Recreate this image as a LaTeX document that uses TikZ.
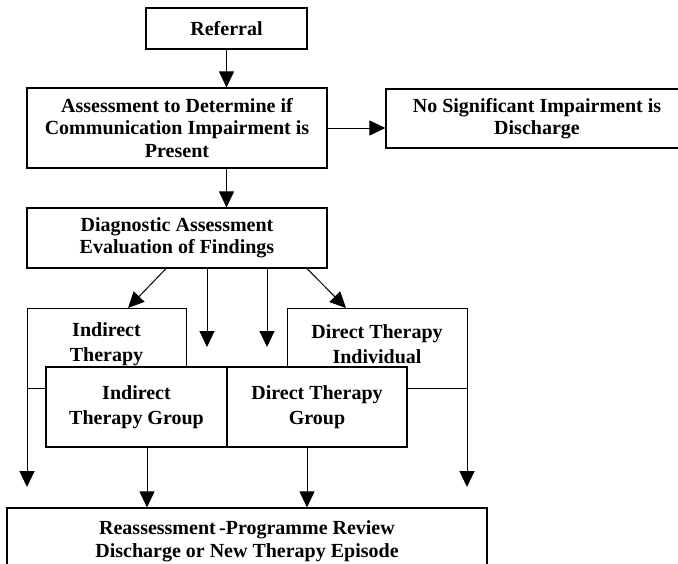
\documentclass[tikz,border=0pt]{standalone}
\usepackage{fontspec}
\setmainfont{Liberation Serif}
\usetikzlibrary{arrows.meta}
\tikzset{
  box/.style={draw, line width=1.2pt, inner sep=0pt, align=center,
    font=\fontsize{20}{22.5}\selectfont\bfseries},
  tbox/.style={box, font=\fontsize{20}{25}\selectfont\bfseries},
  txt/.style={inner sep=0pt, align=center, font=\fontsize{20}{25}\selectfont\bfseries},
  ln/.style={line width=1pt},
  arr/.style={line width=1pt, -{Triangle[length=16pt,width=15pt]}},
}
\begin{document}
\begin{tikzpicture}[x=1pt,y=-1pt]
\useasboundingbox (0,0) rectangle (678,563);
\clip (0,0) rectangle (678,563);
% boxes
\node[box, minimum width=161pt, minimum height=41pt] (ref) at (226.5,28.5) {Referral};
\node[box, minimum width=300pt, minimum height=80pt] (assess) at (177,128)
  {Assessment to Determine if\\Communication Impairment is\\Present};
\node[box, minimum width=302pt, minimum height=59pt] (nosig) at (537,118.5)
  {No Significant Impairment is\\Discharge};
\node[box, minimum width=300pt, minimum height=60pt] (diag) at (177,238)
  {Diagnostic Assessment\\Evaluation of Findings};
\node[tbox, minimum width=181pt, minimum height=80pt] (ig) at (136.5,407)
  {Indirect\\Therapy Group};
\node[tbox, minimum width=180pt, minimum height=80pt] (dg) at (317,407)
  {Direct Therapy\\Group};
\node[box, minimum width=480pt, minimum height=67pt] (re) at (247,541.5)
  {Reassessment\,-Programme Review\\Discharge or New Therapy Episode};
% partly hidden boxes
\coordinate (itTL) at (27,308);
\coordinate (itTR) at (186,308);
\coordinate (itEnd) at (27,487);
\coordinate (dtTL) at (287,308);
\coordinate (dtTR) at (467,308);
\coordinate (dtEnd) at (467,487);
\coordinate (yj) at (0,388);
\node[txt] (itx) at (106.5,344) {Indirect\\Therapy};
\node[txt] (dtx) at (377,344) {Direct Therapy\\Individual};
\draw[arr] (itTR |- ig.north) -- (itTR) -- (itTL) -- (itEnd);
\draw[arr] (dtTL |- dg.north) -- (dtTL) -- (dtTR) -- (dtEnd);
\draw[ln] (ig.west |- yj) -- (itTL |- yj);
\draw[ln] (dg.east |- yj) -- (dtTR |- yj);
% connectors
\draw[arr] (ref.south) -- (ref.south |- assess.north);
\draw[arr] (assess.east) -- (assess.east -| nosig.west);
\draw[arr] (ref.south |- assess.south) -- (ref.south |- diag.north);
\coordinate (itA) at (128,308);
\coordinate (dtA) at (346,308);
\coordinate (m1) at (207,347);
\coordinate (m2) at (267,347);
\draw[arr] ([xshift=-11pt]diag.south) -- (itA);
\draw[arr] ([xshift=30pt]diag.south) -- (m1);
\draw[arr] ([xshift=90pt]diag.south) -- (m2);
\draw[arr] ([xshift=130pt]diag.south) -- (dtA);
\draw[arr] ([xshift=10.5pt]ig.south) -- ([xshift=10.5pt]ig.south |- re.north);
\draw[arr] ([xshift=-10pt]dg.south) -- ([xshift=-10pt]dg.south |- re.north);
\end{tikzpicture}
\end{document}
